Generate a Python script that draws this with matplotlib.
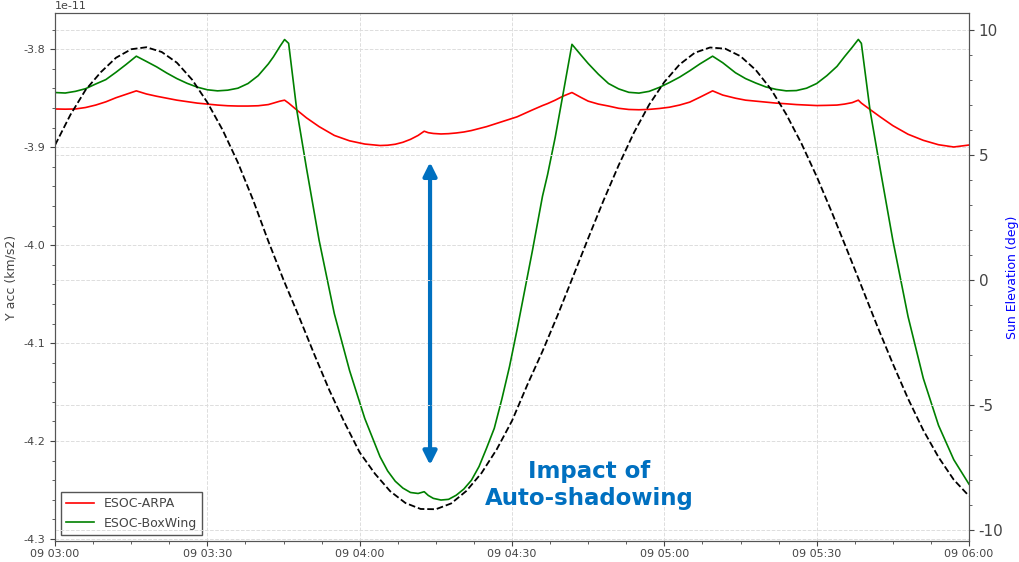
import numpy as np
import pandas as pd
import matplotlib
matplotlib.use("Agg")
import matplotlib.pyplot as plt
import matplotlib.dates as mdates
from matplotlib.ticker import AutoMinorLocator, MultipleLocator

# minutes after 09 03:00
t_acc = [0, 2, 4, 6, 8, 10, 12, 14, 16, 18,
         20, 22, 24, 26, 28, 30, 32, 34, 36, 38,
         40, 42, 43, 44.3, 45.2, 46, 47.6, 49.5, 52, 55,
         58, 61, 64, 65.5, 67, 68.5, 70, 71.5, 72.7, 73.5,
         74.5, 76, 77.5, 79, 80.5, 82, 83.5, 85, 86.5, 88,
         89.5, 91, 92.5, 94, 96, 97, 98.5, 100, 101.8, 103.5,
         105, 107, 109, 111, 113, 115, 117, 119, 121, 123,
         125, 127, 129.5, 131.5, 134, 136, 138, 140, 142, 144,
         146, 148, 150, 152, 154, 155.5, 157, 158.2, 158.8, 160.5,
         162.5, 165, 168, 171, 174, 177, 180]
# Y acceleration, units of 1e-11 km/s2
arpa = [-3.861, -3.8612, -3.861, -3.8595, -3.857, -3.8537, -3.8495, -3.846, -3.8425, -3.8457,
        -3.848, -3.850, -3.852, -3.8535, -3.855, -3.856, -3.857, -3.8577, -3.858, -3.858,
        -3.8577, -3.8565, -3.855, -3.853, -3.852, -3.855, -3.862, -3.870, -3.879, -3.888,
        -3.8935, -3.8968, -3.8983, -3.898, -3.897, -3.895, -3.892, -3.888, -3.8837, -3.8852,
        -3.886, -3.8865, -3.8862, -3.8855, -3.8845, -3.883, -3.881, -3.879, -3.8765, -3.874,
        -3.8715, -3.869, -3.8655, -3.862, -3.8575, -3.8555, -3.852, -3.848, -3.8442, -3.849,
        -3.853, -3.856, -3.858, -3.8603, -3.8615, -3.8618, -3.8614, -3.8605, -3.8592, -3.857,
        -3.854, -3.849, -3.8425, -3.8468, -3.850, -3.852, -3.853, -3.854, -3.855, -3.8557,
        -3.8565, -3.857, -3.8575, -3.8573, -3.857, -3.856, -3.8545, -3.852, -3.855, -3.8615,
        -3.869, -3.878, -3.8868, -3.893, -3.8975, -3.8998, -3.8978]
boxwing = [-3.8442, -3.8447, -3.843, -3.8403, -3.8355, -3.831, -3.8235, -3.8155, -3.8071, -3.8125,
           -3.818, -3.8243, -3.830, -3.8348, -3.8387, -3.8414, -3.8425, -3.8418, -3.8398, -3.835,
           -3.827, -3.815, -3.8078, -3.797, -3.7901, -3.794, -3.862, -3.921, -3.995, -4.070,
           -4.128, -4.177, -4.216, -4.2305, -4.241, -4.248, -4.2525, -4.2535, -4.2517, -4.2555,
           -4.2585, -4.2602, -4.2595, -4.2553, -4.249, -4.240, -4.226, -4.207, -4.187, -4.157,
           -4.124, -4.086, -4.046, -4.006, -3.950, -3.928, -3.890, -3.847, -3.795, -3.8055,
           -3.8146, -3.8255, -3.835, -3.8405, -3.844, -3.8448, -3.843, -3.839, -3.834, -3.8285,
           -3.822, -3.815, -3.8071, -3.8138, -3.824, -3.830, -3.8345, -3.8385, -3.841, -3.8425,
           -3.8422, -3.8398, -3.835, -3.827, -3.8175, -3.8075, -3.798, -3.790, -3.794, -3.862,
           -3.922, -3.995, -4.073, -4.136, -4.184, -4.219, -4.244]

t_sun = list(range(0, 181, 3))
sun_elev = [5.4, 6.6, 7.6, 8.31, 8.89, 9.23, 9.31, 9.12, 8.69, 8.01, 7.1, 6.0, 4.7, 3.2, 1.55,
            0.0, -1.45, -2.95, -4.4, -5.7, -6.9, -7.75, -8.45, -8.92, -9.16, -9.17, -8.94, -8.44,
            -7.72, -6.77, -5.63, -4.2, -2.85, -1.4, 0.13, 1.67, 3.17, 4.59, 5.89, 7.01, 7.92,
            8.62, 9.09, 9.30, 9.25, 8.95, 8.40, 7.63, 6.63, 5.46, 4.14, 2.70, 1.19, -0.34,
            -1.88, -3.35, -4.75, -6.01, -7.09, -7.99, -8.64]

t0 = pd.Timestamp("2019-01-09 03:00")
def stamps(mins):
    return (t0 + pd.to_timedelta(mins, unit="min")).to_pydatetime()

grey = "#444444"
blue = "#0070C0"
plt.rcParams["text.color"] = grey
plt.rcParams["axes.labelcolor"] = grey
plt.rcParams["xtick.color"] = grey
plt.rcParams["ytick.color"] = grey
plt.rcParams["axes.unicode_minus"] = False

fig = plt.figure(figsize=(10.2, 5.62), dpi=100)
ax = fig.add_axes([0.054, 0.0374, 0.896, 0.9395])
ax2 = ax.twinx()

x_acc = stamps(t_acc)
ax.plot(x_acc, np.array(arpa) * 1e-11, color="red", lw=1.2, label="ESOC-ARPA")
ax.plot(x_acc, np.array(boxwing) * 1e-11, color="green", lw=1.2, label="ESOC-BoxWing")
ax2.plot(stamps(t_sun), sun_elev, color="black", ls="--", lw=1.3)

ax.set_xlim(stamps([0])[0], stamps([180])[0])
ax.set_ylim(-4.302e-11, -3.763e-11)
ax2.set_ylim(-10.44, 10.68)

ax.xaxis.set_major_locator(mdates.MinuteLocator(byminute=[0, 30]))
ax.xaxis.set_major_formatter(mdates.DateFormatter("%d %H:%M"))
ax.xaxis.set_minor_locator(AutoMinorLocator(4))
ax.yaxis.set_minor_locator(AutoMinorLocator(5))
ax2.yaxis.set_major_locator(MultipleLocator(5))
ax2.yaxis.set_minor_locator(AutoMinorLocator(5))
ax.tick_params(axis="both", labelsize=8)
ax.tick_params(axis="x", pad=2.5)
ax2.tick_params(axis="y", labelsize=11)
ax.yaxis.get_offset_text().set_fontsize(8)

for a in (ax, ax2):
    a.grid(True, which="major", ls="--", lw=0.7, color="#dddddd")
    for s in a.spines.values():
        s.set_color("#555555")

ax.set_ylabel("Y acc (km/s2)", fontsize=9)
ax2.set_ylabel("Sun Elevation (deg)", fontsize=9, color="blue", labelpad=2)

leg = ax.legend(loc="lower left", fontsize=9, fancybox=False, edgecolor="#555555",
                framealpha=1, handlelength=2.2)

xa = mdates.date2num(stamps([73.85])[0])
ax.annotate("", xy=(xa, -3.9153e-11), xytext=(xa, -4.2245e-11),
            arrowprops=dict(arrowstyle="<|-|>", color=blue, lw=3, mutation_scale=20,
                            shrinkA=0, shrinkB=0))
ax.text(mdates.date2num(stamps([105.2])[0]), -4.2449e-11, "Impact of\nAuto-shadowing",
        color=blue, fontsize=16.5, fontweight="bold", ha="center", va="center",
        multialignment="center")

fig.savefig("out.png", dpi=100)
